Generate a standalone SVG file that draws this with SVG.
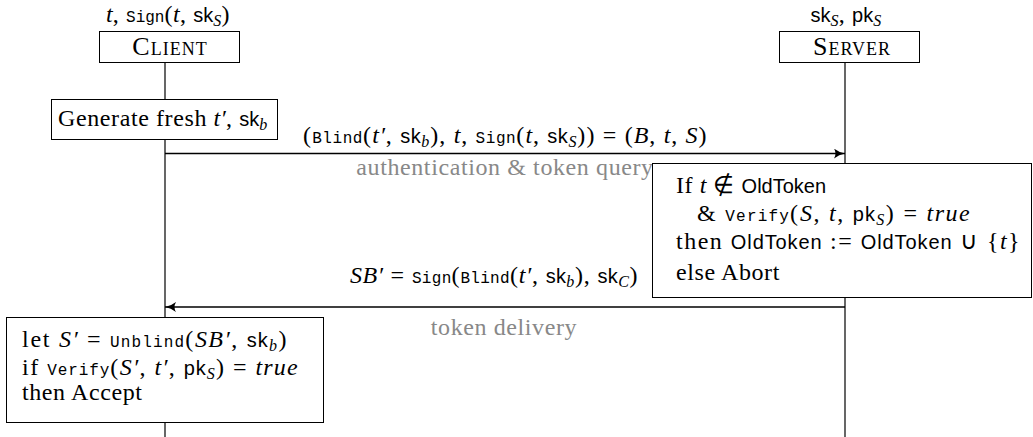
<svg xmlns="http://www.w3.org/2000/svg" width="1033" height="437" viewBox="0 0 1033 437">
<style>
.rm{font-family:"Liberation Serif",serif;font-size:24px;letter-spacing:0.6px;fill:#000}
.g{fill:#888}
.m{font-style:italic;letter-spacing:0.3px}
.tt{font-family:"Liberation Mono",monospace;font-size:16px;letter-spacing:0}
.sf{font-family:"Liberation Sans",sans-serif;font-size:20px;letter-spacing:0}
.sb{font-size:16px}
.sc{font-variant:small-caps;font-size:26px;letter-spacing:1px}
.box{fill:#fff;stroke:#000;stroke-width:1}
.life{stroke:#000;stroke-width:1.2;fill:none}
.msg{stroke:#000;stroke-width:1.4;fill:none}
</style>
<defs>
<marker id="ah" viewBox="0 0 12 10" refX="11" refY="5" markerWidth="12" markerHeight="10" markerUnits="userSpaceOnUse" orient="auto">
<path d="M0,0 Q5,4 11,5 Q5,6 0,10 Q3,5 0,0 Z" fill="#000"/>
</marker>
</defs>
<g id="lifelines">
<line class="life" x1="165" y1="62" x2="165" y2="437"/>
<line class="life" x1="845" y1="62" x2="845" y2="437"/>
</g>
<g id="client">
<text class="rm" x="168" y="22" text-anchor="middle"><tspan class="m">t</tspan>, <tspan class="tt">Sign</tspan>(<tspan class="m">t</tspan>, <tspan class="sf">sk</tspan><tspan class="sb m" dy="4">S</tspan><tspan dy="-4">)</tspan></text>
<rect class="box" x="99.5" y="31.5" width="140" height="31"/>
<text class="rm sc" x="170" y="55" text-anchor="middle">Client</text>
</g>
<g id="server">
<text class="rm" x="846" y="22" text-anchor="middle"><tspan class="sf">sk</tspan><tspan class="sb m" dy="4">S</tspan><tspan dy="-4">, </tspan><tspan class="sf">pk</tspan><tspan class="sb m" dy="4">S</tspan></text>
<rect class="box" x="779.5" y="31.5" width="140" height="31"/>
<text class="rm sc" x="852" y="55" text-anchor="middle">Server</text>
</g>
<g id="generate">
<rect class="box" x="51.5" y="99.5" width="226" height="40"/>
<text class="rm" x="58" y="126">Generate fresh <tspan class="m">t′</tspan>, <tspan class="sf">sk</tspan><tspan class="sb m" dy="4">b</tspan></text>
</g>
<g id="connectors">
<line class="msg" x1="165" y1="153.5" x2="845" y2="153.5" marker-end="url(#ah)"/>
<text class="rm" x="303" y="143" textLength="404" lengthAdjust="spacing">(<tspan class="tt">Blind</tspan>(<tspan class="m">t′</tspan>, <tspan class="sf">sk</tspan><tspan class="sb m" dy="4">b</tspan><tspan dy="-4">), </tspan><tspan class="m">t</tspan>, <tspan class="tt">Sign</tspan>(<tspan class="m">t</tspan>, <tspan class="sf">sk</tspan><tspan class="sb m" dy="4">S</tspan><tspan dy="-4">)) = (</tspan><tspan class="m">B</tspan>, <tspan class="m">t</tspan>, <tspan class="m">S</tspan>)</text>
<text class="rm g" x="505" y="175" text-anchor="middle">authentication &amp; token query</text>
<line class="msg" x1="845" y1="307" x2="165" y2="307" marker-end="url(#ah)"/>
<text class="rm" x="350" y="283" textLength="288" lengthAdjust="spacing"><tspan class="m">SB′</tspan> = <tspan class="tt">Sign</tspan>(<tspan class="tt">Blind</tspan>(<tspan class="m">t′</tspan>, <tspan class="sf">sk</tspan><tspan class="sb m" dy="4">b</tspan><tspan dy="-4">), </tspan><tspan class="sf">sk</tspan><tspan class="sb m" dy="4">C</tspan><tspan dy="-4">)</tspan></text>
<text class="rm g" x="504" y="335" text-anchor="middle">token delivery</text>
</g>
<g id="server-check">
<rect class="box" x="652.5" y="163.5" width="379" height="134"/>
<text class="rm" x="676" y="193">If <tspan class="m">t</tspan> ∉ <tspan class="sf">OldToken</tspan></text>
<text class="rm" x="697" y="221" textLength="273" lengthAdjust="spacing">&amp; <tspan class="tt">Verify</tspan>(<tspan class="m">S</tspan>, <tspan class="m">t</tspan>, <tspan class="sf">pk</tspan><tspan class="sb m" dy="4">S</tspan><tspan dy="-4">) = </tspan><tspan class="m">true</tspan></text>
<text class="rm" x="676" y="249" textLength="344" lengthAdjust="spacing">then <tspan class="sf">OldToken</tspan> := <tspan class="sf">OldToken</tspan> ∪ {<tspan class="m">t</tspan>}</text>
<text class="rm" x="676" y="280">else Abort</text>
</g>
<g id="client-check">
<rect class="box" x="6.5" y="317.5" width="317" height="105"/>
<text class="rm" x="22" y="347" textLength="265" lengthAdjust="spacing">let <tspan class="m">S′</tspan> = <tspan class="tt">Unblind</tspan>(<tspan class="m">SB′</tspan>, <tspan class="sf">sk</tspan><tspan class="sb m" dy="4">b</tspan><tspan dy="-4">)</tspan></text>
<text class="rm" x="22" y="375" textLength="276" lengthAdjust="spacing">if <tspan class="tt">Verify</tspan>(<tspan class="m">S′</tspan>, <tspan class="m">t′</tspan>, <tspan class="sf">pk</tspan><tspan class="sb m" dy="4">S</tspan><tspan dy="-4">) = </tspan><tspan class="m">true</tspan></text>
<text class="rm" x="22" y="400">then Accept</text>
</g>
</svg>
